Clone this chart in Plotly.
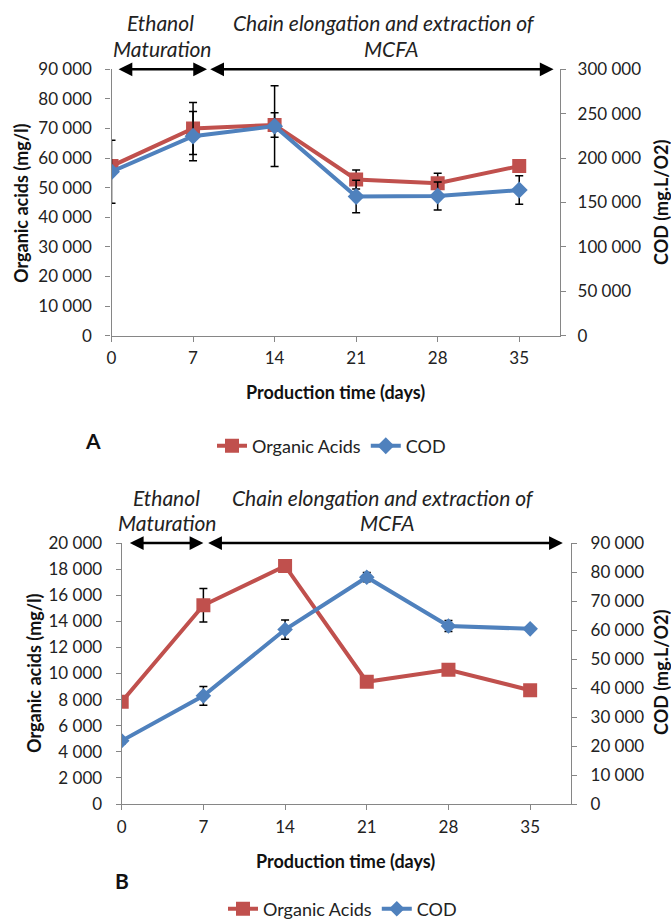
import plotly.graph_objects as go

W, H = 671, 923

# ---------------- data ----------------
days = [0, 7, 14, 21, 28, 35]
x_ticks = [0, 7, 14, 21, 28, 35]

# Panel A
a_organic = [57300, 70000, 71200, 52800, 51500, 57300]
a_organic_err = [800, 8800, 4150, 3200, 3400, 0]
a_cod = [184700, 224700, 236000, 156700, 157300, 164000]
a_cod_err = [35500, 27700, 45500, 18300, 15700, 16000]

# Panel B
b_organic = [7830, 15230, 18240, 9370, 10280, 8720]
b_organic_err = [0, 1280, 0, 0, 0, 0]
b_cod = [21800, 37300, 60150, 78200, 61400, 60400]
b_cod_err = [1000, 3250, 3300, 1600, 1900, 0]

series_names = ["Organic Acids", "COD"]
phase_line1 = ["Ethanol", "Chain elongation and extraction of"]
phase_line2 = ["Maturation", "MCFA"]

RED = "#C0504D"
BLUE = "#4F81BD"
AXIS = "#868686"
FONT = "Lato"


def px(x):
    return x / W


def py(y):
    return 1 - y / H


fig = go.Figure()

# A traces
fig.add_trace(go.Scatter(
    x=days, y=a_organic, name=series_names[0], mode="lines+markers",
    line=dict(color=RED, width=4), marker=dict(symbol="square", size=14, color=RED),
    error_y=dict(type="data", array=a_organic_err, color="black", thickness=1.5, width=4),
    xaxis="x", yaxis="y", legend="legend"))
fig.add_trace(go.Scatter(
    x=days, y=a_cod, name=series_names[1], mode="lines+markers",
    line=dict(color=BLUE, width=4), marker=dict(symbol="diamond", size=13, color=BLUE),
    error_y=dict(type="data", array=a_cod_err, color="black", thickness=1.5, width=4),
    xaxis="x", yaxis="y2", legend="legend"))

# B traces
fig.add_trace(go.Scatter(
    x=days, y=b_organic, name=series_names[0], mode="lines+markers",
    line=dict(color=RED, width=4), marker=dict(symbol="square", size=14, color=RED),
    error_y=dict(type="data", array=b_organic_err, color="black", thickness=1.5, width=4),
    xaxis="x2", yaxis="y3", legend="legend2"))
fig.add_trace(go.Scatter(
    x=days, y=b_cod, name=series_names[1], mode="lines+markers",
    line=dict(color=BLUE, width=4), marker=dict(symbol="diamond", size=12, color=BLUE),
    error_y=dict(type="data", array=b_cod_err, color="black", thickness=1.5, width=4),
    xaxis="x2", yaxis="y4", legend="legend2"))

tickfont = dict(family=FONT, size=17, color="#222222")
common_axis = dict(showline=True, linecolor=AXIS, linewidth=1.3, showgrid=False,
                   zeroline=False, ticks="outside", ticklen=5, tickcolor=AXIS,
                   tickfont=tickfont, tickformat=",d", automargin=False)

A_dom_x = [px(111.5), px(560)]
A_dom_y = [py(335.7), py(69.3)]
B_dom_x = [px(121.7), px(571)]
B_dom_y = [py(804), py(543)]

legend_common = dict(orientation="h", xanchor="left", yanchor="middle",
                     font=dict(family=FONT, size=18, color="#222222"),
                     itemwidth=30, tracegroupgap=0, bgcolor="rgba(0,0,0,0)")

fig.update_layout(
    width=W, height=H, autosize=False,
    margin=dict(l=0, r=0, t=0, b=0, pad=0, autoexpand=False),
    paper_bgcolor="white", plot_bgcolor="white",
    separators=". ",
    font=dict(family=FONT, color="#222222"),
    xaxis=dict(common_axis, domain=A_dom_x, range=[0, 38.5], tickvals=x_ticks,
               anchor="y", ticklabelstandoff=2),
    yaxis=dict(common_axis, domain=A_dom_y, range=[0, 90000], dtick=10000,
               anchor="x", ticklabelstandoff=10),
    yaxis2=dict(common_axis, range=[0, 300000], dtick=50000, overlaying="y",
                side="right", anchor="x", ticklabelstandoff=8),
    xaxis2=dict(common_axis, domain=B_dom_x, range=[0, 38.5], tickvals=x_ticks,
                anchor="y3", ticklabelstandoff=2),
    yaxis3=dict(common_axis, domain=B_dom_y, range=[0, 20000], dtick=2000,
                anchor="x2", ticklabelstandoff=10),
    yaxis4=dict(common_axis, range=[0, 90000], dtick=10000, overlaying="y3",
                side="right", anchor="x2", ticklabelstandoff=10),
    legend=dict(legend_common, x=px(212), y=py(446)),
    legend2=dict(legend_common, x=px(223), y=py(909)),
    showlegend=True,
)

ann = []
title_font = dict(family=FONT, size=18, color="#111111")
phase_font = dict(family=FONT, size=21, color="#222222")

# axis titles
for (xx, yy, txt, ang) in [
    (21, 203, "<b>Organic acids (mg/l)</b>", -90),
    (661, 203, "<b>COD (mg.L/O2)</b>", -90),
    (335, 392, "<b>Production time (days)</b>", 0),
    (34, 673, "<b>Organic acids (mg/l)</b>", -90),
    (661, 673, "<b>COD (mg.L/O2)</b>", -90),
    (345, 861, "<b>Production time (days)</b>", 0),
]:
    ann.append(dict(x=px(xx), y=py(yy), xref="paper", yref="paper", text=txt,
                    textangle=ang, showarrow=False, font=title_font,
                    xanchor="center", yanchor="middle"))

# panel letters
ann.append(dict(x=px(83), y=py(440), xref="paper", yref="paper", text="<b>A</b>",
                showarrow=False, font=dict(family=FONT, size=21, color="#111111")))
ann.append(dict(x=px(113), y=py(895), xref="paper", yref="paper", text="<b>B</b>",
                showarrow=False, font=dict(family=FONT, size=21, color="#111111")))

# phase labels and arrows
panels = [
    dict(xr="x", yr="y", ytop=90000, l1y=22, l2y=48,
         text_x=[4.2, 23.4], text_x2=[4.3, 24.0],
         arrows=[(0.48, 8.2), (8.35, 37.95)]),
    dict(xr="x2", yr="y3", ytop=20000, l1y=497, l2y=522,
         text_x=[3.8, 22.4], text_x2=[3.9, 22.8],
         arrows=[(0.57, 7.0), (7.28, 37.8)]),
]
for p in panels:
    for i in range(2):
        ann.append(dict(x=p["text_x"][i], y=py(p["l1y"]), xref=p["xr"], yref="paper",
                        text="<i>" + phase_line1[i] + "</i>", showarrow=False,
                        font=phase_font, xanchor="center", yanchor="middle"))
        ann.append(dict(x=p["text_x2"][i], y=py(p["l2y"]), xref=p["xr"], yref="paper",
                        text="<i>" + phase_line2[i] + "</i>", showarrow=False,
                        font=phase_font, xanchor="center", yanchor="middle"))
        a0, a1 = p["arrows"][i]
        ann.append(dict(x=a1, y=p["ytop"], ax=a0, ay=p["ytop"], xref=p["xr"], yref=p["yr"],
                        axref=p["xr"], ayref=p["yr"], text="", showarrow=True,
                        arrowhead=2, arrowside="end+start", arrowsize=1.1,
                        arrowwidth=2.5, arrowcolor="black", standoff=0, startstandoff=0))

fig.update_layout(annotations=ann)

fig.write_html("out.html", config={"displayModeBar": False},
               post_script="document.body.style.margin='0px';document.body.style.overflow='hidden';")
